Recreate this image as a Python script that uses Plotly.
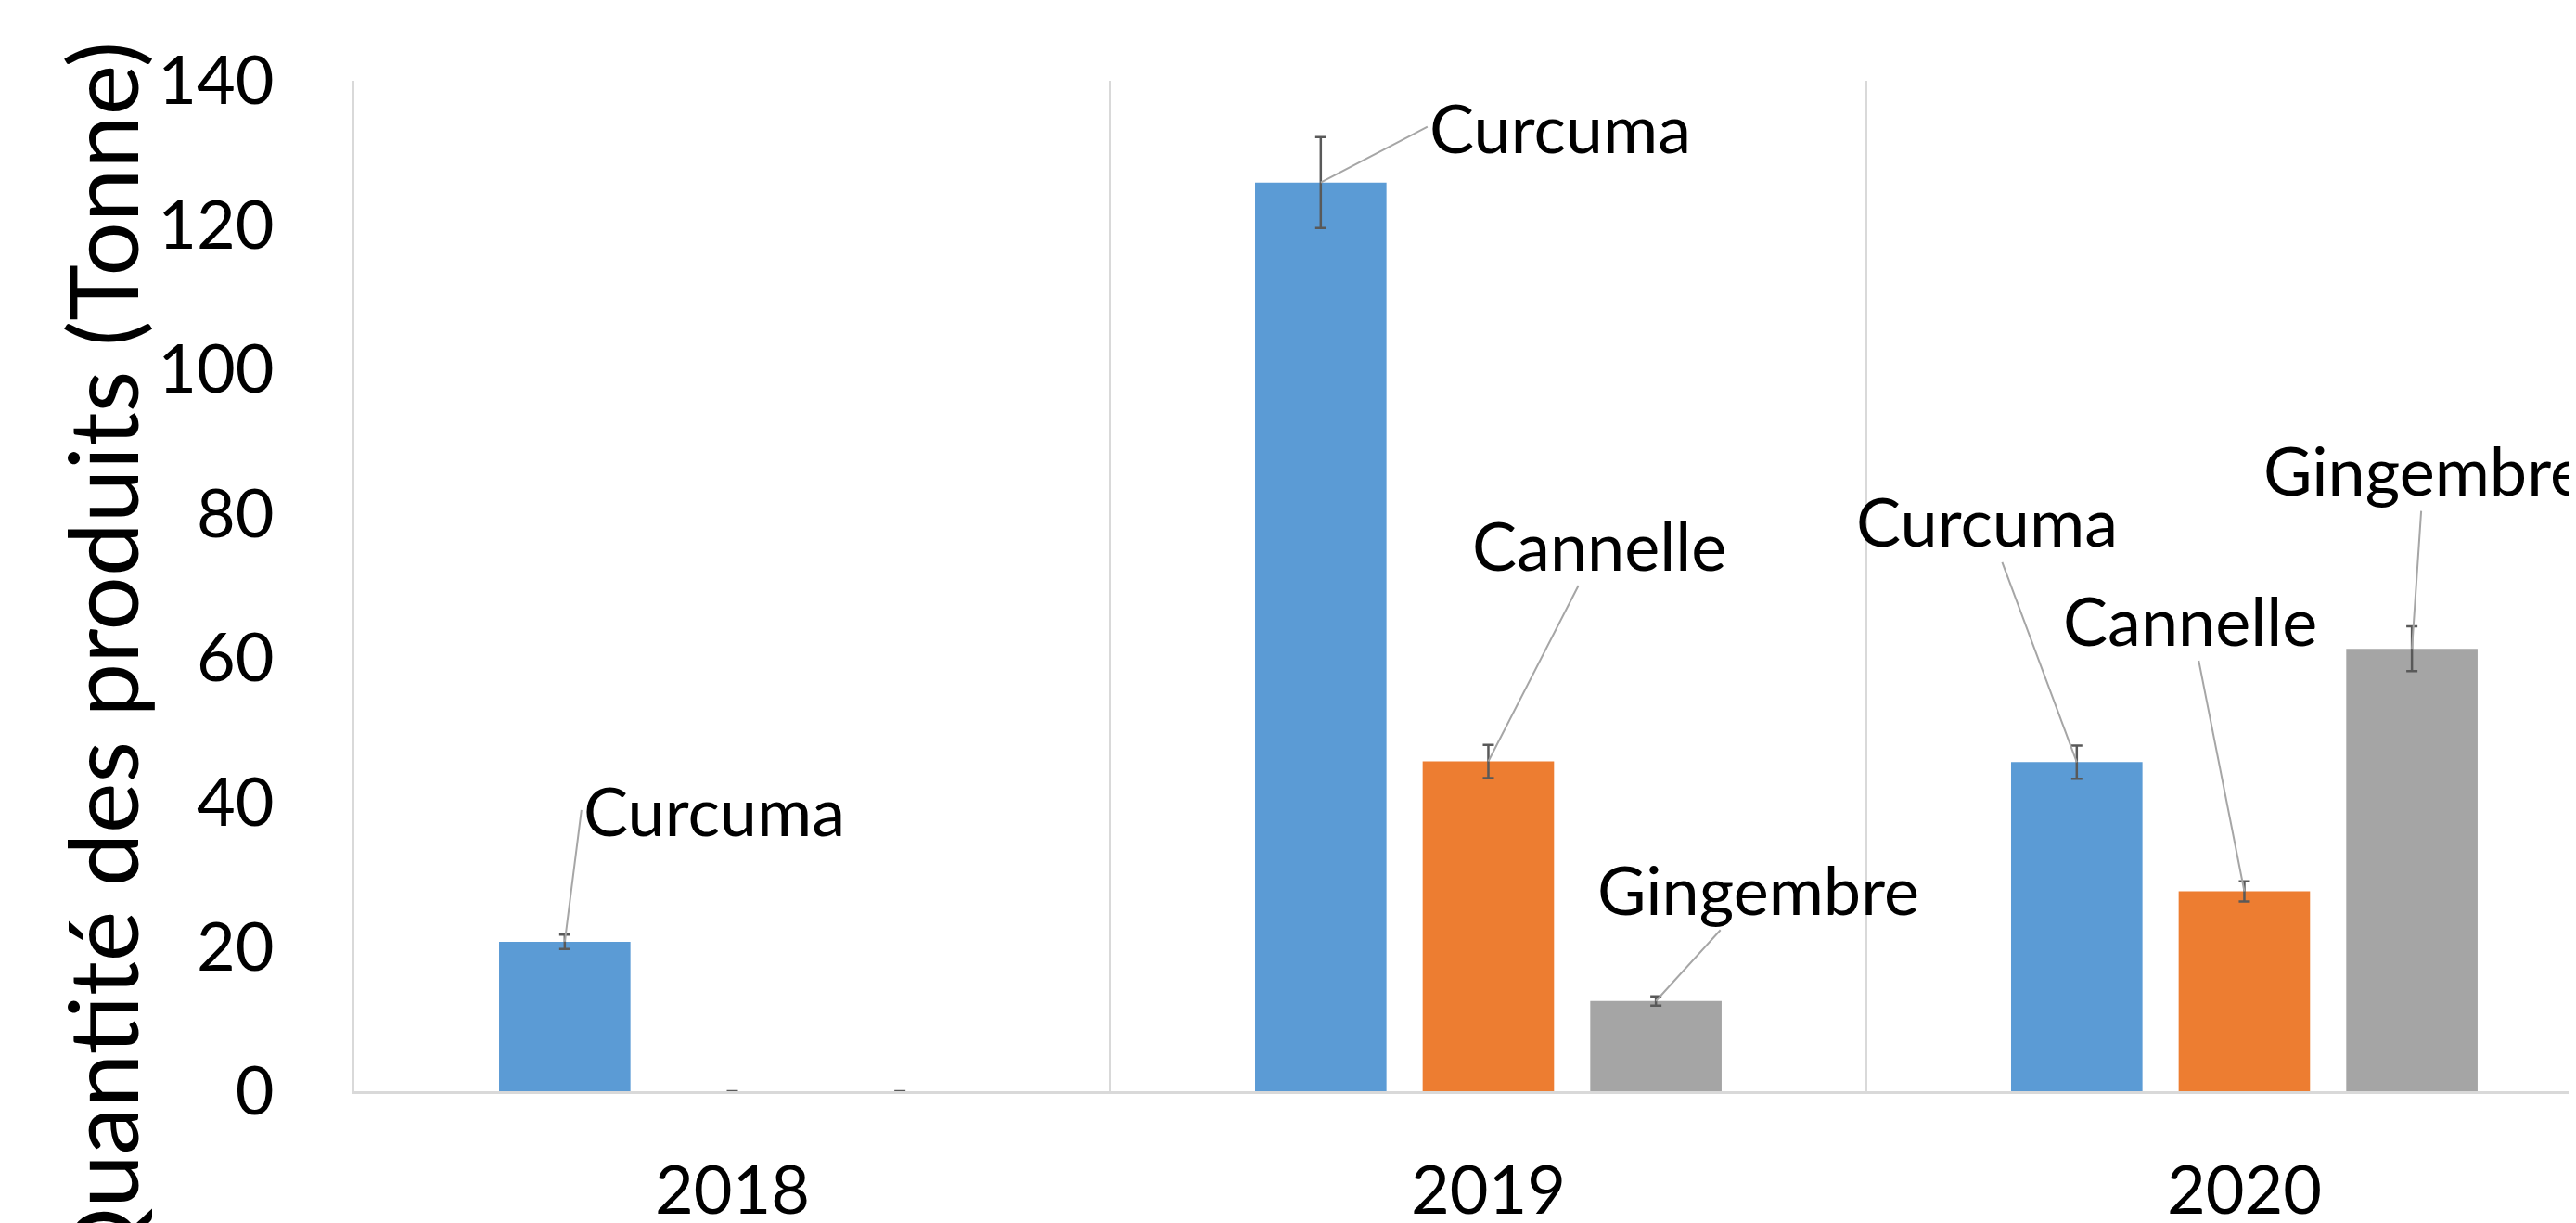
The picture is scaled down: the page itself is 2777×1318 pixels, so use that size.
import plotly.graph_objects as go

years = ["2018", "2019", "2020"]
products = ["Curcuma", "Cannelle", "Gingembre"]
curcuma = [20.7, 125.9, 45.6]
cannelle = [0, 45.7, 27.7]
gingembre = [0, 12.5, 61.3]
err_curcuma = [1.0, 6.3, 2.3]
err_cannelle = [0, 2.3, 1.4]
err_gingembre = [0, 0.65, 3.1]
y_ticks = [0, 20, 40, 60, 80, 100, 120, 140]

values = [curcuma, cannelle, gingembre]
errors = [err_curcuma, err_cannelle, err_gingembre]
colors = ["#5B9BD5", "#ED7D31", "#A5A5A5"]

FONT = "Lato, Carlito, Calibri, sans-serif"
BARGAP = 0.335
BARGROUPGAP = 0.216
slot = (1 - BARGAP) / 3

xpos = list(range(len(years)))

fig = go.Figure()
for name, vals, errs, col in zip(products, values, errors, colors):
    fig.add_trace(go.Bar(
        x=xpos, y=vals, name=name,
        marker=dict(color=col, line=dict(width=0)),
        error_y=dict(type="data", array=errs, visible=True,
                     color="#595959", thickness=2.5, width=6),
        showlegend=False,
    ))

# label placement (pixel offset of label tail from bar top, anchor)
label_offsets = {
    (0, 0): (18, -142, "left"),
    (1, 0): (115, -60, "left"),
    (1, 1): (120, -234, "center"),
    (1, 2): (110, -121, "center"),
    (2, 0): (-97, -260, "center"),
    (2, 1): (-58, -293, "center"),
    (2, 2): (13, -193, "center"),
}
for (i, k), (ax, ay, anc) in label_offsets.items():
    fig.add_annotation(
        x=i + (k - 1) * slot, y=values[k][i], xref="x", yref="y",
        text=products[k], showarrow=True, arrowhead=0, arrowwidth=2,
        arrowcolor="#A6A6A6", ax=ax, ay=ay, standoff=0, startstandoff=0,
        xanchor=anc,
        font=dict(family=FONT, size=72, color="#000000"),
    )

# y axis title
fig.add_annotation(
    x=-0.1140, y=1.0413, xref="paper", yref="paper",
    text="Quantité des produits (Tonne)", textangle=-90, showarrow=False,
    font=dict(family=FONT, size=103, color="#000000"),
    xanchor="center", yanchor="top",
)

fig.update_layout(
    width=2769, height=1310,
    margin=dict(l=374, r=0, t=79, b=142, autoexpand=False),
    paper_bgcolor="white", plot_bgcolor="white",
    barmode="group", bargap=BARGAP, bargroupgap=BARGROUPGAP,
    font=dict(family=FONT, color="#000000"),
)
fig.update_xaxes(
    range=[-0.5, 2.4387], tickvals=xpos, ticktext=years, automargin=False,
    tickfont=dict(family=FONT, size=72, color="#000000"),
    showgrid=False, zeroline=False, ticks="", ticklabelstandoff=43,
    showline=True, linecolor="#D9D9D9", linewidth=3,
    minor=dict(tickmode="array", tickvals=[0.5, 1.5], showgrid=True,
               gridcolor="#D9D9D9", gridwidth=2, ticks=""),
)
fig.update_yaxes(
    range=[0, 140], tickvals=y_ticks, automargin=False,
    tickfont=dict(family=FONT, size=72, color="#000000"),
    showgrid=False, zeroline=False, ticks="", ticklabelstandoff=70,
    showline=True, linecolor="#D9D9D9", linewidth=2,
)

fig.write_html("out.html")
